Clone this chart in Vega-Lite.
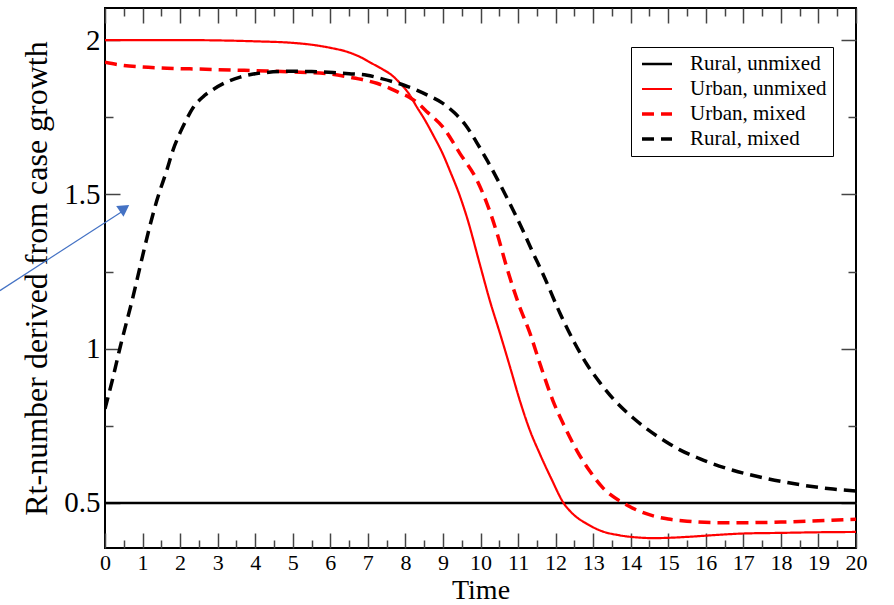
{
  "$schema": "https://vega.github.io/schema/vega-lite/v6.json",
  "width": 751,
  "height": 540,
  "autosize": {"type": "none"},
  "padding": {"left": 105, "top": 8, "right": 38, "bottom": 57},
  "background": "white",
  "config": {
    "view": {"stroke": "#000", "strokeWidth": 2},
    "font": "Liberation Serif",
    "axis": {
      "labelFont": "Liberation Serif",
      "titleFont": "Liberation Serif",
      "titleFontWeight": "normal",
      "labelColor": "#000",
      "titleColor": "#000",
      "grid": false,
      "domain": false,
      "tickColor": "#444",
      "tickWidth": 1.5
    },
    "legend": {
      "orient": "none",
      "legendX": 526,
      "legendY": 39,
      "strokeColor": "#000",
      "fillColor": "white",
      "padding": 6,
      "symbolOffset": 3,
      "symbolType": "stroke",
      "symbolSize": 900,
      "symbolStrokeWidth": 2.5,
      "labelFont": "Liberation Serif",
      "labelFontSize": 21,
      "labelColor": "#000",
      "labelOffset": 16,
      "clipHeight": 22,
      "rowPadding": 3
    }
  },
  "datasets": {
    "lines": [
      {"series": "Rural, unmixed", "t": 0, "v": 0.5},
      {"series": "Rural, unmixed", "t": 20, "v": 0.5},

      {"series": "Urban, unmixed", "t": 0, "v": 2.0},
      {"series": "Urban, unmixed", "t": 1, "v": 2.0},
      {"series": "Urban, unmixed", "t": 2, "v": 2.0},
      {"series": "Urban, unmixed", "t": 3, "v": 1.999},
      {"series": "Urban, unmixed", "t": 4, "v": 1.996},
      {"series": "Urban, unmixed", "t": 5, "v": 1.991},
      {"series": "Urban, unmixed", "t": 5.5, "v": 1.985},
      {"series": "Urban, unmixed", "t": 6, "v": 1.975},
      {"series": "Urban, unmixed", "t": 6.5, "v": 1.96},
      {"series": "Urban, unmixed", "t": 6.8, "v": 1.945},
      {"series": "Urban, unmixed", "t": 7.1, "v": 1.925},
      {"series": "Urban, unmixed", "t": 7.4, "v": 1.905},
      {"series": "Urban, unmixed", "t": 7.65, "v": 1.885},
      {"series": "Urban, unmixed", "t": 7.86, "v": 1.86},
      {"series": "Urban, unmixed", "t": 8.1, "v": 1.825},
      {"series": "Urban, unmixed", "t": 8.31, "v": 1.782},
      {"series": "Urban, unmixed", "t": 8.5, "v": 1.745},
      {"series": "Urban, unmixed", "t": 8.74, "v": 1.692},
      {"series": "Urban, unmixed", "t": 9.0, "v": 1.63},
      {"series": "Urban, unmixed", "t": 9.19, "v": 1.575},
      {"series": "Urban, unmixed", "t": 9.45, "v": 1.495},
      {"series": "Urban, unmixed", "t": 9.64, "v": 1.425},
      {"series": "Urban, unmixed", "t": 9.99, "v": 1.27},
      {"series": "Urban, unmixed", "t": 10.25, "v": 1.155},
      {"series": "Urban, unmixed", "t": 10.52, "v": 1.049},
      {"series": "Urban, unmixed", "t": 10.8, "v": 0.935},
      {"series": "Urban, unmixed", "t": 11.05, "v": 0.831},
      {"series": "Urban, unmixed", "t": 11.3, "v": 0.74},
      {"series": "Urban, unmixed", "t": 11.58, "v": 0.659},
      {"series": "Urban, unmixed", "t": 11.9, "v": 0.575},
      {"series": "Urban, unmixed", "t": 12.2, "v": 0.502},
      {"series": "Urban, unmixed", "t": 12.5, "v": 0.46},
      {"series": "Urban, unmixed", "t": 12.84, "v": 0.432},
      {"series": "Urban, unmixed", "t": 13.2, "v": 0.41},
      {"series": "Urban, unmixed", "t": 13.71, "v": 0.395},
      {"series": "Urban, unmixed", "t": 14.2, "v": 0.388},
      {"series": "Urban, unmixed", "t": 14.59, "v": 0.386},
      {"series": "Urban, unmixed", "t": 15, "v": 0.387},
      {"series": "Urban, unmixed", "t": 15.5, "v": 0.39},
      {"series": "Urban, unmixed", "t": 16.38, "v": 0.397},
      {"series": "Urban, unmixed", "t": 17, "v": 0.401},
      {"series": "Urban, unmixed", "t": 18, "v": 0.403},
      {"series": "Urban, unmixed", "t": 19, "v": 0.405},
      {"series": "Urban, unmixed", "t": 20, "v": 0.406},

      {"series": "Urban, mixed", "t": 0, "v": 1.928},
      {"series": "Urban, mixed", "t": 0.5, "v": 1.918},
      {"series": "Urban, mixed", "t": 1, "v": 1.913},
      {"series": "Urban, mixed", "t": 1.65, "v": 1.909},
      {"series": "Urban, mixed", "t": 2.5, "v": 1.906},
      {"series": "Urban, mixed", "t": 3.4, "v": 1.903},
      {"series": "Urban, mixed", "t": 4.3, "v": 1.9},
      {"series": "Urban, mixed", "t": 5.19, "v": 1.896},
      {"series": "Urban, mixed", "t": 6.0, "v": 1.89},
      {"series": "Urban, mixed", "t": 6.5, "v": 1.88},
      {"series": "Urban, mixed", "t": 7.0, "v": 1.868},
      {"series": "Urban, mixed", "t": 7.24, "v": 1.86},
      {"series": "Urban, mixed", "t": 7.6, "v": 1.843},
      {"series": "Urban, mixed", "t": 7.86, "v": 1.828},
      {"series": "Urban, mixed", "t": 8.1, "v": 1.815},
      {"series": "Urban, mixed", "t": 8.31, "v": 1.798},
      {"series": "Urban, mixed", "t": 8.6, "v": 1.765},
      {"series": "Urban, mixed", "t": 9.0, "v": 1.718},
      {"series": "Urban, mixed", "t": 9.45, "v": 1.633},
      {"series": "Urban, mixed", "t": 9.91, "v": 1.545},
      {"series": "Urban, mixed", "t": 10.17, "v": 1.471},
      {"series": "Urban, mixed", "t": 10.45, "v": 1.37},
      {"series": "Urban, mixed", "t": 10.7, "v": 1.263},
      {"series": "Urban, mixed", "t": 11.0, "v": 1.15},
      {"series": "Urban, mixed", "t": 11.32, "v": 1.049},
      {"series": "Urban, mixed", "t": 11.6, "v": 0.945},
      {"series": "Urban, mixed", "t": 11.93, "v": 0.831},
      {"series": "Urban, mixed", "t": 12.25, "v": 0.745},
      {"series": "Urban, mixed", "t": 12.57, "v": 0.669},
      {"series": "Urban, mixed", "t": 12.9, "v": 0.605},
      {"series": "Urban, mixed", "t": 13.26, "v": 0.549},
      {"series": "Urban, mixed", "t": 13.8, "v": 0.5},
      {"series": "Urban, mixed", "t": 14.2, "v": 0.475},
      {"series": "Urban, mixed", "t": 14.6, "v": 0.458},
      {"series": "Urban, mixed", "t": 15.0, "v": 0.448},
      {"series": "Urban, mixed", "t": 15.5, "v": 0.441},
      {"series": "Urban, mixed", "t": 16.38, "v": 0.436},
      {"series": "Urban, mixed", "t": 17, "v": 0.436},
      {"series": "Urban, mixed", "t": 18, "v": 0.438},
      {"series": "Urban, mixed", "t": 19, "v": 0.442},
      {"series": "Urban, mixed", "t": 20, "v": 0.447},

      {"series": "Rural, mixed", "t": 0, "v": 0.805},
      {"series": "Rural, mixed", "t": 0.2, "v": 0.9},
      {"series": "Rural, mixed", "t": 0.4, "v": 1.003},
      {"series": "Rural, mixed", "t": 0.75, "v": 1.17},
      {"series": "Rural, mixed", "t": 1.0, "v": 1.3},
      {"series": "Rural, mixed", "t": 1.2, "v": 1.4},
      {"series": "Rural, mixed", "t": 1.38, "v": 1.48},
      {"series": "Rural, mixed", "t": 1.65, "v": 1.58},
      {"series": "Rural, mixed", "t": 1.81, "v": 1.643},
      {"series": "Rural, mixed", "t": 2.0, "v": 1.7},
      {"series": "Rural, mixed", "t": 2.18, "v": 1.745},
      {"series": "Rural, mixed", "t": 2.34, "v": 1.78},
      {"series": "Rural, mixed", "t": 2.6, "v": 1.815},
      {"series": "Rural, mixed", "t": 2.88, "v": 1.84},
      {"series": "Rural, mixed", "t": 3.2, "v": 1.862},
      {"series": "Rural, mixed", "t": 3.6, "v": 1.88},
      {"series": "Rural, mixed", "t": 3.95, "v": 1.89},
      {"series": "Rural, mixed", "t": 4.31, "v": 1.895},
      {"series": "Rural, mixed", "t": 5.0, "v": 1.899},
      {"series": "Rural, mixed", "t": 5.5, "v": 1.898},
      {"series": "Rural, mixed", "t": 6.07, "v": 1.895},
      {"series": "Rural, mixed", "t": 6.5, "v": 1.891},
      {"series": "Rural, mixed", "t": 6.98, "v": 1.886},
      {"series": "Rural, mixed", "t": 7.3, "v": 1.877},
      {"series": "Rural, mixed", "t": 7.67, "v": 1.865},
      {"series": "Rural, mixed", "t": 8.0, "v": 1.852},
      {"series": "Rural, mixed", "t": 8.3, "v": 1.838},
      {"series": "Rural, mixed", "t": 8.65, "v": 1.818},
      {"series": "Rural, mixed", "t": 9.0, "v": 1.795},
      {"series": "Rural, mixed", "t": 9.3, "v": 1.765},
      {"series": "Rural, mixed", "t": 9.6, "v": 1.725},
      {"series": "Rural, mixed", "t": 9.9, "v": 1.668},
      {"series": "Rural, mixed", "t": 10.2, "v": 1.605},
      {"series": "Rural, mixed", "t": 10.7, "v": 1.49},
      {"series": "Rural, mixed", "t": 11.13, "v": 1.383},
      {"series": "Rural, mixed", "t": 11.4, "v": 1.31},
      {"series": "Rural, mixed", "t": 11.66, "v": 1.243},
      {"series": "Rural, mixed", "t": 12.12, "v": 1.114},
      {"series": "Rural, mixed", "t": 12.5, "v": 1.02},
      {"series": "Rural, mixed", "t": 12.84, "v": 0.948},
      {"series": "Rural, mixed", "t": 13.18, "v": 0.89},
      {"series": "Rural, mixed", "t": 13.53, "v": 0.838},
      {"series": "Rural, mixed", "t": 14.06, "v": 0.776},
      {"series": "Rural, mixed", "t": 14.43, "v": 0.74},
      {"series": "Rural, mixed", "t": 14.96, "v": 0.697},
      {"series": "Rural, mixed", "t": 15.31, "v": 0.672},
      {"series": "Rural, mixed", "t": 15.85, "v": 0.643},
      {"series": "Rural, mixed", "t": 16.19, "v": 0.627},
      {"series": "Rural, mixed", "t": 16.72, "v": 0.606},
      {"series": "Rural, mixed", "t": 17.63, "v": 0.579},
      {"series": "Rural, mixed", "t": 18.51, "v": 0.559},
      {"series": "Rural, mixed", "t": 19.39, "v": 0.545},
      {"series": "Rural, mixed", "t": 20, "v": 0.539}
    ],
    "arrow": [
      {"x": -2.8, "y": 1.188, "x2": 0.55, "y2": 1.452}
    ],
    "head": [
      {"x": 0.52, "y": 1.455}
    ]
  },
  "resolve": {"axis": {"x": "independent", "y": "independent"}},
  "layer": [
    {
      "data": {"name": "lines"},
      "mark": {"type": "line", "interpolate": "monotone", "clip": true},
      "encoding": {
        "x": {
          "field": "t", "type": "quantitative",
          "scale": {"domain": [0, 20], "nice": false, "zero": false},
          "axis": {
            "orient": "bottom",
            "title": "Time",
            "titleFontSize": 28,
            "titlePadding": -4,
            "labelFontSize": 22,
            "values": [0,0.5,1,1.5,2,2.5,3,3.5,4,4.5,5,5.5,6,6.5,7,7.5,8,8.5,9,9.5,10,10.5,11,11.5,12,12.5,13,13.5,14,14.5,15,15.5,16,16.5,17,17.5,18,18.5,19,19.5,20],
            "format": "~g",
            "labelExpr": "datum.value % 1 === 0 ? datum.label : ''",
            "tickSize": {"condition": {"test": "datum.value % 1 === 0", "value": -15}, "value": -8},
            "labelPadding": 19,
            "labelFlush": false,
            "labelOverlap": false
          }
        },
        "y": {
          "field": "v", "type": "quantitative",
          "scale": {"domain": [0.354, 2.104], "nice": false, "zero": false},
          "axis": {
            "orient": "left",
            "title": "Rt-number derived from case growth",
            "titleFontSize": 32,
            "titlePadding": 10,
            "labelFontSize": 29,
            "values": [0.5, 0.75, 1, 1.25, 1.5, 1.75, 2],
            "format": "~g",
            "labelExpr": "(datum.value * 2) % 1 === 0 ? datum.label : ''",
            "tickSize": {"condition": {"test": "(datum.value * 2) % 1 === 0", "value": -15}, "value": -8},
            "labelPadding": 20,
            "labelFlush": false,
            "labelOverlap": false
          }
        },
        "color": {
          "field": "series", "type": "nominal",
          "scale": {
            "domain": ["Rural, unmixed", "Urban, unmixed", "Urban, mixed", "Rural, mixed"],
            "range": ["#000000", "#ff0000", "#ff0000", "#000000"]
          },
          "legend": {"title": null}
        },
        "strokeDash": {
          "field": "series", "type": "nominal",
          "scale": {
            "domain": ["Rural, unmixed", "Urban, unmixed", "Urban, mixed", "Rural, mixed"],
            "range": [[1, 0], [1, 0], [12, 7], [12, 7]]
          },
          "legend": {"title": null}
        },
        "strokeWidth": {
          "field": "series", "type": "ordinal",
          "scale": {
            "type": "ordinal",
            "domain": ["Rural, unmixed", "Urban, unmixed", "Urban, mixed", "Rural, mixed"],
            "range": [2.5, 2.2, 3.5, 3.5]
          },
          "legend": null
        }
      }
    },
    {
      "data": {"name": "arrow"},
      "mark": {"type": "rule", "color": "#4472C4", "strokeWidth": 1.2, "clip": false},
      "encoding": {
        "x": {
          "field": "x", "type": "quantitative",
          "scale": {"domain": [0, 20], "nice": false, "zero": false},
          "axis": {
            "orient": "top", "title": null, "labels": false,
            "values": [0,0.5,1,1.5,2,2.5,3,3.5,4,4.5,5,5.5,6,6.5,7,7.5,8,8.5,9,9.5,10,10.5,11,11.5,12,12.5,13,13.5,14,14.5,15,15.5,16,16.5,17,17.5,18,18.5,19,19.5,20],
            "tickSize": {"condition": {"test": "datum.value % 1 === 0", "value": -15}, "value": -8}
          }
        },
        "y": {
          "field": "y", "type": "quantitative",
          "scale": {"domain": [0.354, 2.104], "nice": false, "zero": false},
          "axis": {
            "orient": "right", "title": null, "labels": false,
            "values": [0.5, 0.75, 1, 1.25, 1.5, 1.75, 2],
            "tickSize": {"condition": {"test": "(datum.value * 2) % 1 === 0", "value": -15}, "value": -8}
          }
        },
        "x2": {"field": "x2"},
        "y2": {"field": "y2"}
      }
    },
    {
      "data": {"name": "head"},
      "mark": {"type": "point", "shape": "triangle-up", "filled": true, "color": "#4472C4", "size": 170, "angle": 56, "opacity": 1, "clip": false},
      "encoding": {
        "x": {"field": "x", "type": "quantitative", "scale": {"domain": [0, 20], "nice": false, "zero": false}, "axis": null},
        "y": {"field": "y", "type": "quantitative", "scale": {"domain": [0.354, 2.104], "nice": false, "zero": false}, "axis": null}
      }
    }
  ]
}
